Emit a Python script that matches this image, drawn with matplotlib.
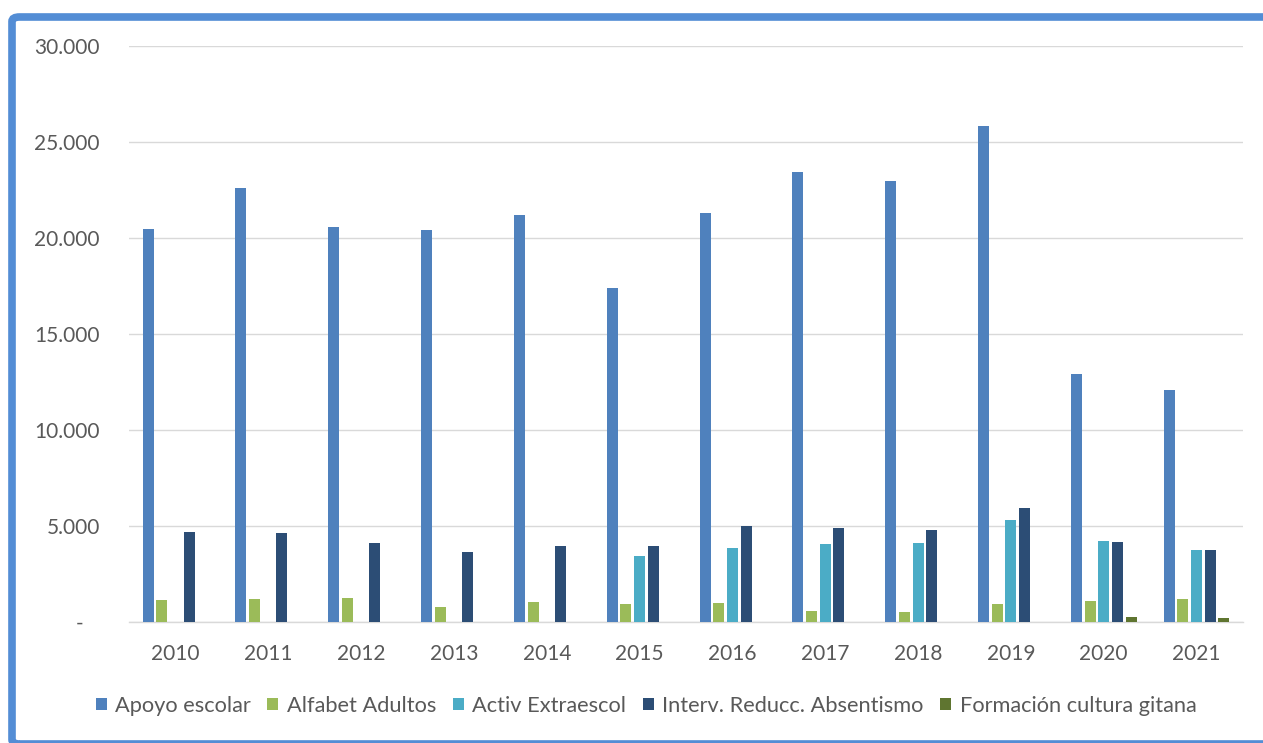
import matplotlib
matplotlib.use("Agg")
import matplotlib.pyplot as plt
import numpy as np
from matplotlib.patches import FancyBboxPatch

years = ["2010", "2011", "2012", "2013", "2014", "2015", "2016", "2017", "2018", "2019", "2020", "2021"]
apoyo_escolar = [20480, 22620, 20570, 20420, 21200, 17380, 21320, 23420, 22990, 25820, 12940, 12080]
alfabet_adultos = [1150, 1200, 1250, 780, 1030, 950, 1010, 580, 510, 960, 1080, 1200]
activ_extraescol = [0, 0, 0, 0, 0, 3460, 3860, 4080, 4100, 5290, 4220, 3770]
interv_absentismo = [4700, 4660, 4120, 3670, 3940, 3950, 5010, 4900, 4790, 5950, 4180, 3750]
formacion_gitana = [0, 0, 0, 0, 0, 0, 0, 0, 0, 0, 250, 200]
series_names = ["Apoyo escolar", "Alfabet Adultos", "Activ Extraescol",
                "Interv. Reducc. Absentismo", "Formación cultura gitana"]
ytick_values = [0, 5000, 10000, 15000, 20000, 25000, 30000]
ytick_labels = ["-   ", "5.000", "10.000", "15.000", "20.000", "25.000", "30.000"]

colors = ["#4F81BD", "#9BBB59", "#4BACC6", "#2C4D75", "#5F7530"]
series = [apoyo_escolar, alfabet_adultos, activ_extraescol, interv_absentismo, formacion_gitana]

plt.rcParams['font.family'] = ['Lato', 'DejaVu Sans']
W, H = 1263, 743
fig = plt.figure(figsize=(W / 100, H / 100), dpi=100)
ax = fig.add_axes([129 / W, (H - 622) / H, (1243 - 129) / W, (622 - 46) / H])

x = np.arange(len(years))
step = 0.1475
for i, (vals, c, name) in enumerate(zip(series, colors, series_names)):
    ax.bar(x + (i - 2) * step, vals, width=0.118, color=c, label=name, zorder=3)

ax.set_xlim(-0.5, len(years) - 0.5)
ax.set_ylim(0, 30000)
ax.set_yticks(ytick_values)
ax.set_yticklabels(ytick_labels)
ax.set_xticks(x)
ax.set_xticklabels(years)
ax.tick_params(axis='both', length=0, labelsize=15, colors="#595959")
ax.tick_params(axis='y', pad=21)
ax.tick_params(axis='x', pad=16)
ax.grid(axis='y', color="#D9D9D9", linewidth=1.0, zorder=0)
for s in ["top", "right", "left"]:
    ax.spines[s].set_visible(False)
ax.spines["bottom"].set_color("#D9D9D9")
ax.spines["bottom"].set_linewidth(1.0)

leg = fig.legend(loc="center", bbox_to_anchor=(646 / W, (H - 706) / H), ncol=5, frameon=False,
                 fontsize=15.7, handlelength=0.5, handleheight=0.5, handletextpad=0.4,
                 columnspacing=0.75, labelcolor="#595959")

border = FancyBboxPatch((12 / W, -1 / H), (W + 40) / W, (H - 17 + 1) / H,
                        boxstyle="round,pad=0,rounding_size=0.006",
                        transform=fig.transFigure, fill=False, edgecolor="#538DD5",
                        linewidth=5.5, clip_on=False)
fig.patches.append(border)

fig.savefig("out.png", dpi=100)
